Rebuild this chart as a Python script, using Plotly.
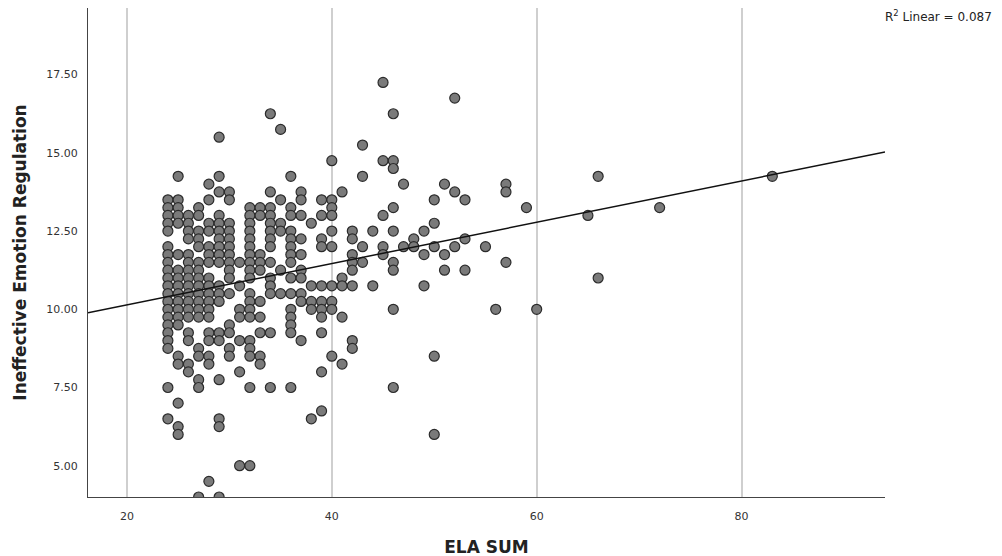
import numpy as np
import plotly.graph_objects as go

# ELA SUM values (x) and the Ineffective Emotion Regulation values observed at each
ela_levels = [24, 25, 26, 27, 28, 29, 30, 31, 32, 33, 34, 35, 36, 37, 38, 39, 40,
              41, 42, 43, 44, 45, 46, 47, 48, 49, 50, 51, 52, 53, 55, 56, 57, 59,
              60, 65, 66, 72, 83]
ier_by_level = [
    [13.5, 13.25, 13.0, 12.75, 12.5, 12.0, 11.75, 11.5, 11.25, 11.0, 10.75, 10.5, 10.25, 10.0, 9.75, 9.5, 9.25, 9.0, 8.75, 7.5, 6.5],
    [14.25, 13.5, 13.25, 13.0, 12.75, 11.75, 11.25, 11.0, 10.75, 10.5, 10.25, 10.0, 9.75, 9.5, 8.5, 8.25, 7.0, 6.25, 6.0],
    [13.0, 12.75, 12.5, 12.25, 11.75, 11.5, 11.25, 11.0, 10.75, 10.5, 10.25, 10.0, 9.75, 9.25, 9.0, 8.25, 8.0],
    [13.25, 13.0, 12.5, 12.25, 12.0, 11.5, 11.25, 11.0, 10.75, 10.5, 10.25, 10.0, 9.75, 8.75, 8.5, 7.75, 7.5, 4.0],
    [14.0, 13.5, 12.75, 12.5, 12.0, 11.75, 11.5, 11.0, 10.75, 10.5, 10.25, 10.0, 9.75, 9.25, 9.0, 8.5, 8.25, 4.5],
    [15.5, 14.25, 13.75, 13.0, 12.75, 12.5, 12.25, 12.0, 11.75, 11.5, 10.75, 10.5, 10.25, 9.25, 9.0, 7.75, 6.5, 6.25, 4.0],
    [13.75, 13.5, 12.75, 12.5, 12.25, 12.0, 11.75, 11.5, 11.25, 11.0, 10.5, 9.5, 9.25, 8.75, 8.5],
    [11.5, 10.75, 10.0, 9.75, 9.0, 8.0, 5.0],
    [13.25, 13.0, 12.75, 12.5, 12.25, 12.0, 11.75, 11.5, 11.25, 11.0, 10.5, 10.25, 10.0, 9.75, 9.0, 8.75, 8.5, 7.5, 5.0],
    [13.25, 13.0, 11.75, 11.5, 11.25, 10.25, 9.75, 9.25, 8.5, 8.25],
    [16.25, 13.75, 13.25, 13.0, 12.75, 12.5, 12.25, 12.0, 11.5, 11.0, 10.75, 10.5, 9.25, 7.5],
    [15.75, 13.5, 12.75, 12.5, 11.25, 10.5],
    [14.25, 13.25, 13.0, 12.5, 12.25, 12.0, 11.75, 11.5, 11.0, 10.5, 10.0, 9.75, 9.5, 9.25, 7.5],
    [13.75, 13.5, 13.0, 12.25, 11.75, 11.25, 11.0, 10.5, 10.25, 9.0],
    [12.75, 10.75, 10.25, 10.0, 6.5],
    [13.5, 13.0, 12.25, 12.0, 10.75, 10.25, 10.0, 9.75, 9.25, 8.0, 6.75],
    [14.75, 13.5, 13.25, 13.0, 12.5, 12.0, 10.75, 10.25, 10.0, 8.5],
    [13.75, 11.0, 10.75, 9.75, 8.25],
    [12.5, 12.25, 11.75, 11.5, 11.25, 10.75, 9.0, 8.75],
    [15.25, 14.25, 12.0, 11.5],
    [12.5, 10.75],
    [17.25, 14.75, 13.0, 12.0, 11.75],
    [16.25, 14.75, 14.5, 13.25, 12.5, 11.5, 11.25, 10.0, 7.5],
    [14.0, 12.0],
    [12.25, 12.0],
    [12.5, 11.75, 10.75],
    [13.5, 12.75, 12.0, 8.5, 6.0],
    [14.0, 11.75, 11.25],
    [16.75, 13.75, 12.0],
    [13.5, 12.25, 11.25],
    [12.0],
    [10.0],
    [14.0, 13.75, 11.5],
    [13.25],
    [10.0],
    [13.0],
    [14.25, 11.0],
    [13.25],
    [14.25],
]

x_ticks = [20, 40, 60, 80]
y_ticks = [5.0, 7.5, 10.0, 12.5, 15.0, 17.5]
x_range = [16.2, 94.0]
y_range = [4.0, 19.63]
r2_label = "R<sup>2</sup> Linear = 0.087"

ela = []
ier = []
for lvl, vals in zip(ela_levels, ier_by_level):
    for v in vals:
        ela.append(lvl)
        ier.append(v)

slope, intercept = np.polyfit(ela, ier, 1)
fit_x = np.array(x_range)
fit_y = intercept + slope * fit_x

fig = go.Figure()
fig.add_trace(go.Scatter(
    x=ela, y=ier, mode="markers",
    marker=dict(size=10, color="#7a7a7a", line=dict(color="#2b2b2b", width=1.2)),
    showlegend=False, hoverinfo="x+y",
))
fig.add_trace(go.Scatter(
    x=fit_x, y=fit_y, mode="lines",
    line=dict(color="#111111", width=1.5),
    showlegend=False, hoverinfo="skip",
))

font_family = "DejaVu Sans, Verdana, sans-serif"
fig.update_layout(
    width=1002, height=556,
    margin=dict(l=80, r=125, t=0, b=67, autoexpand=False),
    paper_bgcolor="white", plot_bgcolor="white",
    font=dict(family=font_family, color="#333333", size=11),
    xaxis=dict(
        range=x_range, tickvals=x_ticks, ticktext=[str(t) for t in x_ticks],
        showgrid=True, gridcolor="#cfcfcf", gridwidth=1.5,
        showline=True, linecolor="#444444", linewidth=1,
        zeroline=False, ticks="", tickfont=dict(size=11, color="#333333"),
        ticklabelstandoff=9, automargin=False,
        title=dict(text="<b>ELA SUM</b>", font=dict(size=17, color="#222222"), standoff=18),
    ),
    yaxis=dict(
        range=y_range, tickvals=y_ticks, ticktext=[f"{t:.2f}" for t in y_ticks],
        showgrid=False, showline=True, linecolor="#444444", linewidth=1,
        zeroline=False, ticks="", tickfont=dict(size=11, color="#333333"),
        ticklabelstandoff=7, automargin=False,
        title=dict(text="<b>Ineffective Emotion Regulation</b>", font=dict(size=17, color="#222222"), standoff=15),
    ),
    annotations=[dict(
        text=r2_label, xref="paper", yref="paper", x=1.0, y=1.0,
        xanchor="left", yanchor="top", xshift=-2, yshift=2, showarrow=False,
        font=dict(size=12, color="#222222"),
    )],
)

fig.write_html("out.html")
